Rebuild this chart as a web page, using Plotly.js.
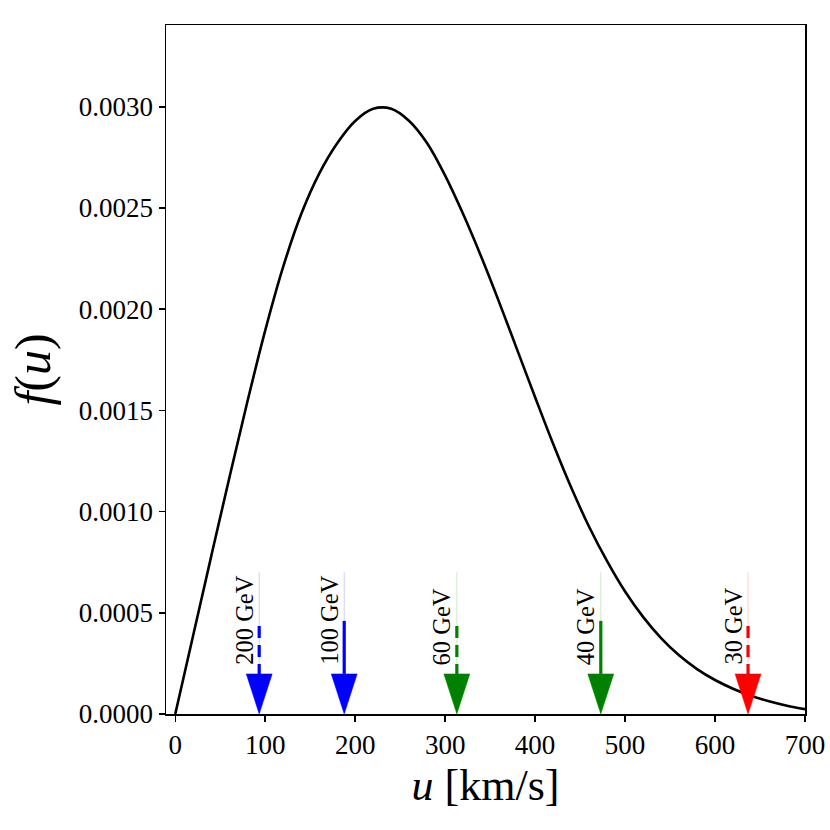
<!DOCTYPE html>
<html>
<head>
<meta charset="utf-8">
<script src="https://cdn.plot.ly/plotly-3.0.1.min.js"></script>
<style>html,body{margin:0;padding:0;background:#fff;}#plot{width:830px;height:830px;}</style>
</head>
<body>
<div id="plot"></div>
<script>
// speed u [km/s]
const speeds = [0, 20, 40, 60, 80, 100, 120, 140, 160, 180, 200, 220, 240, 260, 280, 300, 320, 340, 360, 380, 400, 420, 440, 460, 480, 500, 520, 540, 560, 580, 600, 620, 640, 660, 680, 700];
// f(u) values (x1e-3)
const fValuesE3 = [0, 0.39, 0.78, 1.165, 1.54, 1.895, 2.21, 2.47, 2.67, 2.82, 2.93, 2.99, 2.99, 2.93, 2.82, 2.66, 2.47, 2.26, 2.035, 1.80, 1.565, 1.335, 1.12, 0.925, 0.755, 0.605, 0.48, 0.375, 0.29, 0.222, 0.168, 0.125, 0.09, 0.063, 0.041, 0.024];

// markers for WIMP masses
const arrowLabels = ["200 GeV", "100 GeV", "60 GeV", "40 GeV", "30 GeV"];
const arrowSpeeds = [93.3, 187.8, 313, 473, 636.7];
const arrowColors = ["#0000ff", "#0000ff", "#008000", "#008000", "#ff0000"];
const arrowDashed = [true, false, true, false, true];

const yTickVals = [0, 0.0005, 0.001, 0.0015, 0.002, 0.0025, 0.003];
const xTickVals = [0, 100, 200, 300, 400, 500, 600, 700];

// drawing constants (styles)
const FAINT_TOP = 0.0007;
const SHAFT_TOP_SOLID = 0.00046;
const SHAFT_TOP_DASH = 0.000435;
const HEAD_BASE = 0.000198;
const HEAD_HALF = 14.4;
const FONT = "'Liberation Serif', 'DejaVu Serif', serif";

const traces = [];
traces.push({
  x: speeds,
  y: fValuesE3.map(v => v * 1e-3),
  mode: 'lines',
  line: {color: '#000', width: 2.6, shape: 'spline', smoothing: 1},
  hoverinfo: 'skip', showlegend: false
});

const annotations = [];
arrowSpeeds.forEach((u, i) => {
  const c = arrowColors[i];
  traces.push({
    x: [u, u], y: [FAINT_TOP, HEAD_BASE], mode: 'lines',
    line: {color: c, width: 1}, opacity: 0.2, showlegend: false, hoverinfo: 'skip'
  });
  traces.push({
    x: [u, u], y: [arrowDashed[i] ? SHAFT_TOP_DASH : SHAFT_TOP_SOLID, HEAD_BASE], mode: 'lines',
    line: {color: c, width: 3.2, dash: arrowDashed[i] ? '12px,7px' : 'solid'},
    showlegend: false, hoverinfo: 'skip'
  });
  traces.push({
    x: [u - HEAD_HALF, u + HEAD_HALF, u, u - HEAD_HALF],
    y: [HEAD_BASE, HEAD_BASE, 0, HEAD_BASE],
    mode: 'lines', fill: 'toself', fillcolor: c,
    line: {color: c, width: 0.5}, showlegend: false, hoverinfo: 'skip'
  });
  annotations.push({
    x: u, y: 0.000232, xref: 'x', yref: 'y',
    text: arrowLabels[i], showarrow: false, textangle: -90,
    xanchor: 'center', yanchor: 'bottom', xshift: -15,
    font: {family: FONT, size: 24.5, color: '#000'}
  });
});

const layout = {
  width: 830, height: 830,
  margin: {l: 166, r: 25, t: 25, b: 116},
  paper_bgcolor: '#fff', plot_bgcolor: '#fff',
  showlegend: false,
  font: {family: FONT, color: '#000'},
  xaxis: {
    range: [-10.3, 700], tickvals: xTickVals, ticktext: xTickVals.map(String),
    showgrid: false, zeroline: false, showline: true, mirror: true,
    linecolor: '#000', linewidth: 1.5, ticks: 'outside', ticklen: 6, tickwidth: 1.5, tickcolor: '#000',
    tickfont: {family: FONT, size: 27, color: '#000'},
    title: {text: '<i>u</i> [km/s]', font: {family: FONT, size: 44, color: '#000'}, standoff: 10}
  },
  yaxis: {
    range: [0, 0.003404], tickvals: yTickVals, ticktext: yTickVals.map(v => v.toFixed(4)),
    showgrid: false, zeroline: false, showline: true, mirror: true,
    linecolor: '#000', linewidth: 1.5, ticks: 'outside', ticklen: 6, tickwidth: 1.5, tickcolor: '#000',
    tickfont: {family: FONT, size: 27, color: '#000'},
    title: {text: '<i>f</i>(<i>u</i>)', font: {family: FONT, size: 50, color: '#000'}, standoff: 12}
  },
  annotations: annotations
};

Plotly.newPlot('plot', traces, layout, {staticPlot: true, displayModeBar: false});
</script>
</body>
</html>
